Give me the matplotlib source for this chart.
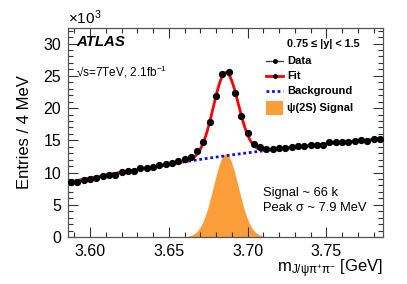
import matplotlib
matplotlib.use("Agg")
import matplotlib.pyplot as plt
from matplotlib.patches import Rectangle
from matplotlib.lines import Line2D
from matplotlib.ticker import MultipleLocator
import numpy as np

plt.rcParams['font.family'] = ['Liberation Sans', 'DejaVu Sans']
plt.rcParams['mathtext.fontset'] = 'custom'
plt.rcParams['mathtext.rm'] = 'Liberation Sans'
plt.rcParams['mathtext.it'] = 'Liberation Sans:italic'
plt.rcParams['mathtext.bf'] = 'Liberation Sans:bold'

# bin centres (GeV), 4 MeV bins
mass = [3.588 + 0.004 * i for i in range(50)]
# entries per bin, in thousands
counts = [8.57, 8.53, 8.84, 8.94, 9.10, 9.50, 9.60, 9.66, 10.10, 10.20,
          10.20, 10.65, 10.75, 10.90, 11.16, 11.27, 11.50, 11.80, 12.10, 12.45,
          13.40, 14.80, 17.90, 21.90, 25.30, 25.60, 22.30, 18.70, 16.10, 14.50,
          14.00, 13.60, 13.60, 13.75, 13.75, 14.00, 14.10, 14.15, 14.26, 14.30,
          14.30, 14.70, 14.70, 14.70, 14.75, 14.90, 15.10, 14.85, 15.25, 15.15]

# fit parameters (signal gaussian + quadratic background), thousands / 4 MeV
sig_amp = 12.9
sig_mean = 3.6862
sig_width = 0.0079
bkg_ref = 3.686
bkg_coef = [12.6, 33.9, -75.5]

xmin, xmax = 3.586, 3.786

xf = np.linspace(xmin, xmax, 600)
d = xf - bkg_ref
bkg = bkg_coef[0] + bkg_coef[1] * d + bkg_coef[2] * d ** 2
sig = sig_amp * np.exp(-0.5 * ((xf - sig_mean) / sig_width) ** 2)

fig = plt.figure(figsize=(4.07, 2.84), dpi=100)
ax = fig.add_axes([0.167, 0.1655, 0.774, 0.7355])

orange = '#fb9e3a'
ax.fill_between(xf, 0, sig, color=orange, lw=0, zorder=1)
ax.plot(xf, bkg, color='#1010ee', lw=2, ls=(0, (1, 1)), zorder=2)
ax.plot(xf, bkg + sig, color='red', lw=2, zorder=3)
ax.errorbar(mass, counts, xerr=0.001, fmt='o', color='black', ms=4.2,
            lw=1, capsize=0, zorder=4)

ax.set_xlim(xmin, xmax)
ax.set_ylim(0, 32.4)

ax.xaxis.set_major_locator(MultipleLocator(0.05))
ax.xaxis.set_minor_locator(MultipleLocator(0.01))
ax.yaxis.set_major_locator(MultipleLocator(5))
ax.yaxis.set_minor_locator(MultipleLocator(1))
ax.set_xticks([3.60, 3.65, 3.70, 3.75])
ax.set_xticklabels(['3.60', '3.65', '3.70', '3.75'])
ax.tick_params(which='both', direction='in', top=True, right=True,
               labelsize=11.5, color='#333333', width=0.8)
ax.tick_params(which='major', length=7, pad=5)
ax.tick_params(which='minor', length=3.5)
for s in ax.spines.values():
    s.set_color('#555555')
    s.set_linewidth(0.9)

ax.set_ylabel('Entries / 4 MeV', fontsize=12, labelpad=8)
ax.set_xlabel(r'm$_{\mathrm{J/ψπ^{+}π^{-}}}$ [GeV]', fontsize=12,
              labelpad=2)
ax.xaxis.set_label_coords(1.0, -0.1)
ax.xaxis.label.set_horizontalalignment('right')

ax.text(0.0, 1.005, r'$\times$10$^{3}$', transform=ax.transAxes,
        fontsize=11, ha='left', va='bottom')

ax.text(0.025, 0.933, 'ATLAS', transform=ax.transAxes, fontsize=10.8,
        fontweight='bold', fontstyle='italic', va='center')
ax.text(0.025, 0.79, r'√s=7TeV, 2.1fb$^{-1}$',
        transform=ax.transAxes, fontsize=8.5, va='center')

ax.text(0.695, 0.923, '0.75 ≤ |y| < 1.5', transform=ax.transAxes,
        fontsize=7.8, fontweight='bold', va='center')

hx0, hx1, tx = 0.629, 0.683, 0.695
rows = [0.842, 0.77, 0.699, 0.617]
ax.add_line(Line2D([hx0, hx1], [rows[0]] * 2, transform=ax.transAxes,
                   color='#444444', lw=1))
ax.add_line(Line2D([(hx0 + hx1) / 2], [rows[0]], transform=ax.transAxes,
                   marker='o', ms=2.5, color='black'))
ax.add_line(Line2D([hx0, hx1], [rows[1]] * 2, transform=ax.transAxes,
                   color='red', lw=2))
ax.add_line(Line2D([(hx0 + hx1) / 2], [rows[1]], transform=ax.transAxes,
                   marker='o', ms=2.5, color='black'))
ax.add_line(Line2D([hx0, hx1], [rows[2]] * 2, transform=ax.transAxes,
                   color='#1010ee', lw=2, ls=(0, (1, 1))))
ax.add_patch(Rectangle((hx0, rows[3] - 0.032), hx1 - hx0, 0.064,
                       transform=ax.transAxes, color=orange, lw=0))
for r, lab in zip(rows, ['Data', 'Fit', 'Background', 'ψ(2S) Signal']):
    ax.text(tx, r, lab, transform=ax.transAxes, fontsize=8,
            fontweight='bold', va='center')

ax.text(0.619, 0.21, 'Signal ~ 66 k', transform=ax.transAxes,
        fontsize=9.3, va='center')
ax.text(0.619, 0.139, 'Peak σ ~ 7.9 MeV', transform=ax.transAxes,
        fontsize=9.3, va='center')

fig.savefig('out.png', dpi=100)
